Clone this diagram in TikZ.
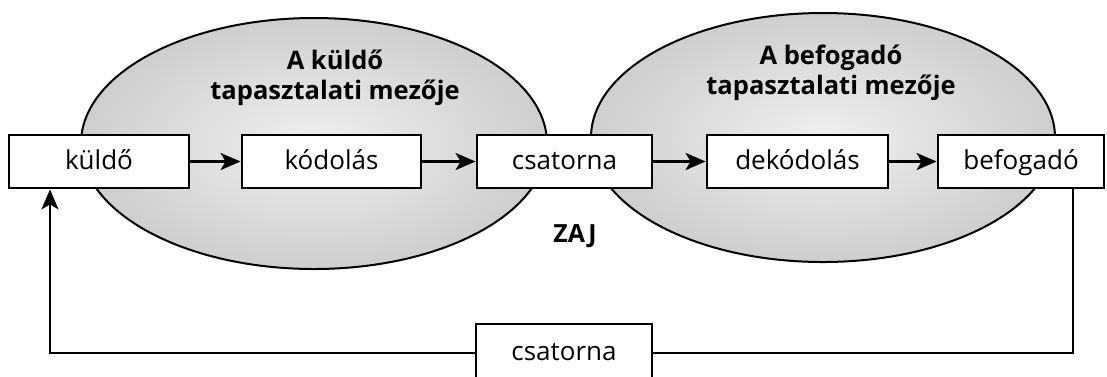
\documentclass[tikz,border=0pt]{standalone}
\usepackage{fontspec}
\setmainfont{Open Sans}
\usetikzlibrary{shapes.geometric,arrows.meta}
\begin{document}
\begin{tikzpicture}[x=1pt,y=-1pt,
  field/.style={ellipse,draw=black,line width=2pt,inner sep=0pt,
    inner color=black!6,outer color=black!19},
  stepbox/.style={draw=black,line width=2.8pt,fill=white,inner sep=0pt,
    minimum height=53pt,text height=19pt,text depth=4pt,
    font=\fontsize{26}{28}\selectfont},
  lbl/.style={align=center,font=\fontsize{25.5}{29.5}\selectfont\bfseries},
  tip/.style={-{Stealth[length=20pt,width=17pt,inset=5pt]}},
  conn/.style={line width=2.8pt,tip},
  fb/.style={line width=2.4pt}]
\useasboundingbox (0,0) rectangle (1107,376);
\fill[white] (0,0) rectangle (1107,376);
\node[field,minimum width=466pt,minimum height=251pt] (e1) at (314,143.5) {};
\node[field,minimum width=464pt,minimum height=249pt] (e2) at (823,137.5) {};
\node[lbl] (l1) at (335,78) {A küldő\\tapasztalati mezője};
\node[lbl] (l2) at (831,73) {A befogadó\\tapasztalati mezője};
\node[stepbox,minimum width=180pt] (kuldo) at (99,161.5) {küldő};
\node[stepbox,minimum width=179pt] (kodolas) at (331.5,161.5) {kódolás};
\node[stepbox,minimum width=175pt] (csat) at (564.5,161.5) {csatorna};
\node[stepbox,minimum width=181pt] (dekod) at (797.5,161.5) {dekódolás};
\node[stepbox,minimum width=166pt] (befog) at (1021,161.5) {befogadó};
\node[font=\fontsize{25}{28}\selectfont\bfseries] (zaj) at (575,236) {ZAJ};
\coordinate (r) at (1073,353);
\coordinate (l) at (50,353);
\draw[fb,tip] (befog.south -| r) -- (r) -- (l) -- (kuldo.south -| l);
\node[stepbox,minimum width=176pt,minimum height=58pt] (csat2) at (564,353) {csatorna};
\draw[conn] (kuldo) -- (kodolas);
\draw[conn] (kodolas) -- (csat);
\draw[conn] (csat) -- (dekod);
\draw[conn] (dekod) -- (befog);
\end{tikzpicture}
\end{document}
